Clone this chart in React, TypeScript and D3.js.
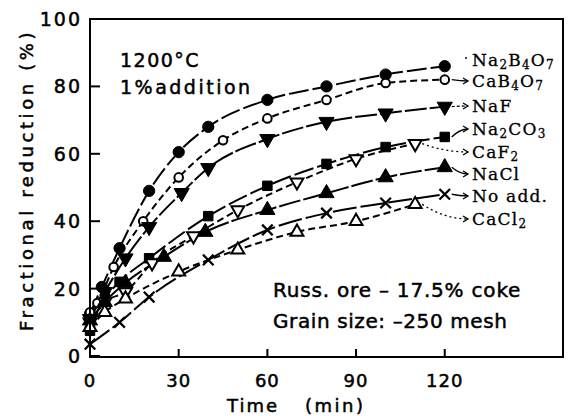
import React from "react";
import * as d3 from "d3";

// Time (min) / fractional reduction (%)
const na2b4o7T = [0, 4, 10, 20, 30, 40, 60, 80, 100, 120];
const na2b4o7V = [12.5, 20.5, 32, 49, 60.5, 68, 76, 80, 83.5, 86];
const cab4o7T = [0, 2.5, 8, 18, 30, 45, 60, 80, 100, 120];
const cab4o7V = [13, 15.7, 26.4, 40, 53, 64, 70.5, 76, 81, 82];
const nafT = [0, 5, 12, 20, 31, 40, 60, 80, 100, 120];
const nafV = [11, 19, 29, 38.3, 48.4, 55.8, 64.4, 69.5, 72, 74];
const na2co3T = [0, 5, 10, 20, 40, 60, 80, 100, 120];
const na2co3V = [7.5, 17, 22, 29, 41.5, 50.5, 57, 62, 65];
const caf2T = [0, 5, 12, 21, 35, 50, 70, 90, 110];
const caf2V = [10, 16, 19, 27.6, 35.6, 43.3, 51.6, 58.5, 63];
const naclT = [0, 5, 12, 25, 39, 60, 80, 100, 120];
const naclV = [10.5, 16, 21.7, 29.4, 36.8, 43.3, 48.3, 53, 56];
const noAddT = [0, 10, 20, 40, 60, 80, 100, 120];
const noAddV = [3.5, 10, 17.5, 28.5, 37.4, 42.4, 45.4, 48];
const cacl2T = [0, 5, 12, 30, 50, 70, 90, 110];
const cacl2V = [8.5, 13, 17, 25, 31.5, 36.8, 40, 45];

const seriesNames = ["Na2B4O7", "CaB4O7", "NaF", "Na2CO3", "CaF2", "NaCl", "No add.", "CaCl2"];
const xTicks = [0, 30, 60, 90, 120];
const yTicks = [0, 20, 40, 60, 80, 100];

type Marker = "dot" | "circle" | "tridown" | "square" | "tridownOpen" | "triup" | "cross" | "triupOpen";

const series = [
  { name: seriesNames[0], t: na2b4o7T, v: na2b4o7V, marker: "dot" as Marker, dash: "20,4", labelY: 60, arrow: "none" },
  { name: seriesNames[1], t: cab4o7T, v: cab4o7V, marker: "circle" as Marker, dash: "7,4", labelY: 81, arrow: "solid" },
  { name: seriesNames[2], t: nafT, v: nafV, marker: "tridown" as Marker, dash: "22,3", labelY: 106, arrow: "dash" },
  { name: seriesNames[3], t: na2co3T, v: na2co3V, marker: "square" as Marker, dash: "20,4", labelY: 129, arrow: "solid" },
  { name: seriesNames[4], t: caf2T, v: caf2V, marker: "tridownOpen" as Marker, dash: "7,4", labelY: 152, arrow: "dot" },
  { name: seriesNames[5], t: naclT, v: naclV, marker: "triup" as Marker, dash: "22,3", labelY: 174, arrow: "solid" },
  { name: seriesNames[6], t: noAddT, v: noAddV, marker: "cross" as Marker, dash: "24,4", labelY: 196, arrow: "solid" },
  { name: seriesNames[7], t: cacl2T, v: cacl2V, marker: "triupOpen" as Marker, dash: "7,4", labelY: 219, arrow: "dot" },
];

const W = 570;
const H = 416;
const left = 90;
const top = 19;
const right = 563;
const bottom = 357;

const x = d3.scaleLinear().domain([0, 160]).range([left, right]);
const y = d3.scaleLinear().domain([0, 100]).range([356, top]);

const sym = (m: Marker) => {
  if (m === "dot" || m === "circle") return d3.symbol(d3.symbolCircle, m === "dot" ? 100 : 58)();
  if (m === "square") return d3.symbol(d3.symbolSquare, 90)();
  if (m === "cross") return d3.symbol(d3.symbolX, 75)();
  return d3.symbol(d3.symbolTriangle, m === "triup" || m === "tridown" ? 100 : 72)();
};

const MarkerShape = ({ m, cx, cy }: { m: Marker; cx: number; cy: number }) => {
  const open = m === "circle" || m === "tridownOpen" || m === "triupOpen";
  const rot = m === "tridown" || m === "tridownOpen" ? 180 : 0;
  const isCross = m === "cross";
  return (
    <path
      d={sym(m) || ""}
      transform={`translate(${cx},${cy}) rotate(${rot})`}
      fill={open ? "#fff" : isCross ? "none" : "#000"}
      stroke="#000"
      strokeWidth={open ? 2 : isCross ? 2.3 : 1}
    />
  );
};

const Chem = ({ text }: { text: string }) => {
  const parts = text.split(/(\d)/).filter((p) => p !== "");
  return (
    <>
      {parts.map((p, i) =>
        /\d/.test(p) ? (
          <tspan key={i} fontSize={12} dy={3}>
            {p}
          </tspan>
        ) : (
          <tspan key={i} dy={i > 0 && /\d/.test(parts[i - 1]) ? -3 : 0}>
            {p}
          </tspan>
        )
      )}
    </>
  );
};

export default function App() {
  const line = d3
    .line<[number, number]>()
    .x((d) => x(d[0]))
    .y((d) => y(d[1]))
    .curve(d3.curveMonotoneX);

  const labelX = 472;
  const sans = "'DejaVu Sans', sans-serif";
  const bold = { stroke: "#000", strokeWidth: 0.5 };

  return (
    <svg width={W} height={H} style={{ position: "absolute", left: 0, top: 0, background: "#fff" }}>
      {/* curves */}
      {series.map((s) => (
        <path
          key={s.name + "l"}
          d={line(s.t.map((t, i) => [t, s.v[i]] as [number, number])) || ""}
          fill="none"
          stroke="#000"
          strokeWidth={2}
          strokeDasharray={s.dash}
        />
      ))}
      {/* markers */}
      {series.map((s) =>
        s.t.map((t, i) => <MarkerShape key={s.name + i} m={s.marker} cx={x(t)} cy={y(s.v[i])} />)
      )}
      {/* arrows to labels */}
      {series.map((s) => {
        if (s.arrow === "none") return null;
        const n = s.t.length - 1;
        const x0 = x(s.t[n]) + 7;
        const y0 = y(s.v[n]);
        const x1 = labelX - 4;
        const y1 = s.labelY;
        return (
          <g key={s.name + "a"} stroke="#000" strokeWidth={1.3} fill="none">
            <path
              d={`M${x0},${y0} Q${(x0 + x1) / 2},${y1} ${x1},${y1}`}
              strokeDasharray={s.arrow === "dash" ? "3,2" : s.arrow === "dot" ? "2,3" : undefined}
            />
            <path d={`M${x1 - 5},${y1 - 3} L${x1},${y1} L${x1 - 5},${y1 + 3}`} />
          </g>
        );
      })}
      <circle cx={labelX - 6} cy={58} r={1} fill="#000" />
      {/* labels */}
      {series.map((s) => (
        <text
          key={s.name + "t"}
          x={labelX}
          y={s.labelY + 6}
          fontFamily="'DejaVu Serif', serif"
          fontSize={17}
          letterSpacing={1.2}
          fill="#000"
          stroke="#000"
          strokeWidth={0.3}
        >
          <Chem text={s.name} />
        </text>
      ))}
      {/* frame */}
      <rect x={left} y={top} width={right - left} height={bottom - top} fill="none" stroke="#000" strokeWidth={2} />
      {/* ticks */}
      {xTicks.map((t) => (
        <g key={"xt" + t}>
          <line x1={x(t)} x2={x(t)} y1={bottom} y2={bottom - 8} stroke="#000" strokeWidth={2} />
          <text x={x(t)} y={387} textAnchor="middle" fontFamily={sans} fontSize={18} letterSpacing={1} fill="#000" {...bold}>
            {t}
          </text>
        </g>
      ))}
      {yTicks.map((v) => (
        <g key={"yt" + v}>
          <line x1={left} x2={left + 10} y1={y(v)} y2={y(v)} stroke="#000" strokeWidth={2} />
          <text x={82} y={y(v) + 7} textAnchor="end" fontFamily={sans} fontSize={19} letterSpacing={2} fill="#000" {...bold}>
            {v}
          </text>
        </g>
      ))}
      {/* axis titles */}
      <text x={227} y={412} fontFamily={sans} fontSize={18} letterSpacing={2} fill="#000" {...bold}>
        Time
      </text>
      <text x={305} y={412} fontFamily={sans} fontSize={18} letterSpacing={2.5} fill="#000" {...bold}>
        (min)
      </text>
      <text
        transform={`translate(33,${180}) rotate(-90)`}
        textAnchor="middle"
        fontFamily={sans}
        fontSize={18}
        letterSpacing={3.6}
        fill="#000"
        {...bold}
      >
        Fractional reduction (%)
      </text>
      {/* annotations */}
      <text x={120} y={67} fontFamily={sans} fontSize={19} letterSpacing={1.5} fill="#000" {...bold}>
        1200°C
      </text>
      <text x={120} y={94} fontFamily={sans} fontSize={19} letterSpacing={2.5} fill="#000" {...bold}>
        1%addition
      </text>
      <text x={273} y={297} fontFamily={sans} fontSize={20} letterSpacing={0.8} fill="#000" {...bold}>
        Russ. ore – 17.5% coke
      </text>
      <text x={273} y={328} fontFamily={sans} fontSize={20} letterSpacing={0.6} fill="#000" {...bold}>
        Grain size: –250 mesh
      </text>
    </svg>
  );
}
